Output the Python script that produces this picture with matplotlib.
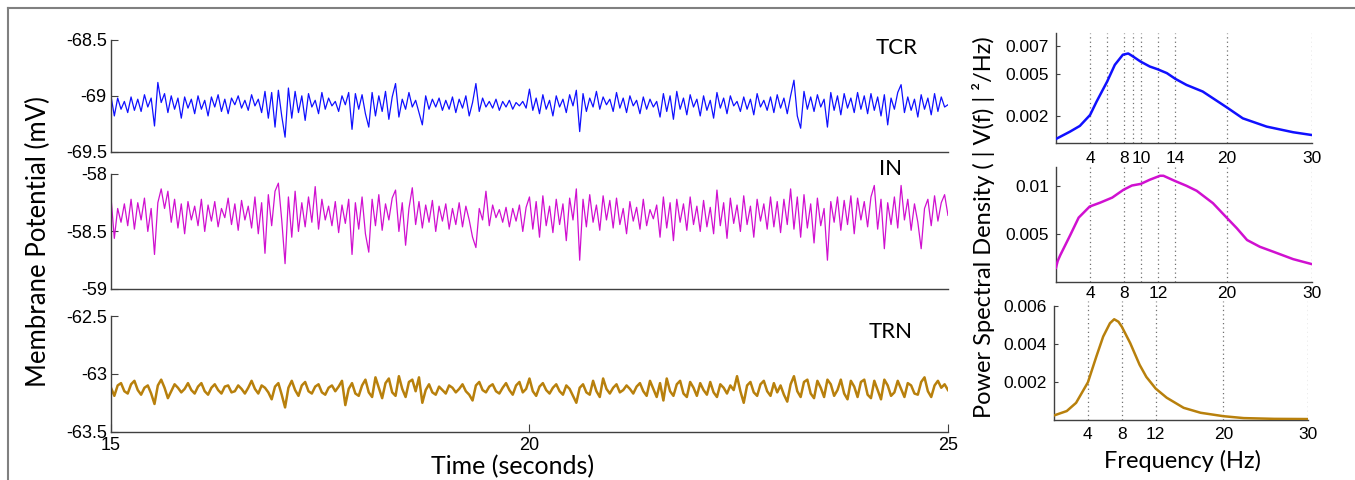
##========================================
# Thalamic model: membrane potential traces and their spectra
##========================================
import numpy as np
import matplotlib
matplotlib.use('Agg')
import matplotlib.pyplot as plt
from matplotlib.lines import Line2D

##====================================================
# Data
##====================================================
# membrane potential (mV), 0.04 s steps from 15 s to 25 s
tcr_mv = [
    -69.00, -69.18, -69.02, -69.12, -69.05, -69.15, -69.01, -69.13, -69.03, -69.14, -68.99, -69.10, -69.02, -69.27, -68.88, -69.06, -68.98, -69.15, -69.00, -69.12, -69.02, -69.20, -69.01, -69.11, -69.03,
    -69.16, -69.00, -69.12, -69.04, -69.18, -69.01, -69.10, -68.99, -69.14, -69.03, -69.16, -69.02, -69.08, -69.00, -69.11, -69.04, -69.13, -68.99, -69.09, -69.03, -69.15, -68.96, -69.20, -68.97, -69.28,
    -68.95, -69.18, -69.37, -68.93, -69.20, -68.96, -69.15, -69.00, -69.22, -68.98, -69.10, -69.04, -69.16, -68.97, -69.12, -69.02, -69.09, -69.05, -69.14, -69.00, -69.08, -68.97, -69.30, -68.98, -69.12,
    -68.99, -69.16, -69.28, -68.97, -69.18, -69.00, -69.14, -68.96, -69.21, -69.01, -68.89, -69.19, -69.03, -69.12, -68.97, -69.10, -69.04, -69.15, -69.26, -69.00, -69.12, -69.03, -69.10, -69.02, -69.13,
    -69.04, -69.12, -69.01, -69.15, -69.03, -69.11, -69.00, -69.18, -69.06, -68.89, -69.14, -69.02, -69.10, -69.05, -69.11, -69.03, -69.13, -69.05, -69.10, -69.04, -69.12, -69.06, -69.09, -69.05, -69.11,
    -68.94, -69.13, -69.02, -69.16, -68.99, -69.12, -69.04, -69.18, -69.00, -69.10, -69.03, -69.15, -68.99, -69.09, -68.95, -69.32, -68.98, -69.14, -69.02, -69.10, -68.96, -69.12, -69.01, -69.08, -69.03,
    -69.14, -68.97, -69.11, -69.02, -69.15, -69.00, -69.09, -69.04, -69.16, -69.01, -69.12, -69.03, -69.10, -69.05, -69.19, -68.98, -69.14, -69.00, -69.21, -68.96, -69.12, -69.02, -69.17, -68.99, -69.10,
    -69.03, -69.18, -69.00, -69.13, -69.04, -69.20, -68.97, -69.11, -69.02, -69.16, -69.00, -69.09, -69.05, -69.14, -69.01, -69.12, -69.03, -69.17, -68.98, -69.10, -69.04, -69.13, -69.01, -69.15, -68.99,
    -69.11, -69.02, -69.16, -69.00, -68.86, -69.18, -69.29, -68.96, -69.12, -69.01, -69.14, -68.99, -69.10, -69.03, -69.28, -68.97, -69.13, -69.00, -69.17, -68.98, -69.11, -69.02, -69.15, -68.97, -69.12,
    -69.00, -69.16, -68.98, -69.13, -69.01, -69.18, -68.99, -69.26, -69.02, -69.12, -68.97, -68.90, -69.15, -69.01, -69.13, -69.03, -69.19, -68.99, -69.12, -69.02, -69.17, -68.98, -69.14, -69.01, -69.10,
    -69.08]

in_mv = [
    -58.20, -58.56, -58.30, -58.42, -58.26, -58.45, -58.22, -58.48, -58.25, -58.40, -58.21, -58.50, -58.30, -58.70, -58.25, -58.13, -58.30, -58.15, -58.42, -58.22, -58.47, -58.26, -58.52, -58.24, -58.40,
    -58.28, -58.45, -58.22, -58.50, -58.27, -58.41, -58.24, -58.46, -58.30, -58.38, -58.21, -58.44, -58.26, -58.49, -58.23, -58.40, -58.28, -58.47, -58.20, -58.52, -58.25, -58.69, -58.18, -58.45, -58.15,
    -58.08, -58.40, -58.78, -58.20, -58.55, -58.15, -58.50, -58.25, -58.46, -58.20, -58.42, -58.11, -58.48, -58.22, -58.40, -58.28, -58.45, -58.24, -58.51, -58.27, -58.43, -58.22, -58.70, -58.25, -58.48,
    -58.20, -58.52, -58.68, -58.22, -58.45, -58.18, -58.49, -58.26, -58.40, -58.21, -58.14, -58.50, -58.25, -58.62, -58.30, -58.12, -58.44, -58.24, -58.47, -58.27, -58.42, -58.23, -58.50, -58.28, -58.41,
    -58.26, -58.48, -58.30, -58.44, -58.25, -58.46, -58.28, -58.40, -58.55, -58.64, -58.30, -58.40, -58.15, -58.45, -58.27, -58.38, -58.31, -58.42, -58.29, -58.46, -58.30, -58.41, -58.27, -58.50, -58.29,
    -58.20, -58.48, -58.24, -58.55, -58.19, -58.45, -58.28, -58.51, -58.22, -58.44, -58.26, -58.58, -58.21, -58.40, -58.13, -58.75, -58.22, -58.46, -58.18, -58.42, -58.27, -58.49, -58.19, -58.40, -58.23,
    -58.47, -58.21, -58.44, -58.30, -58.52, -58.24, -58.41, -58.29, -58.48, -58.22, -58.45, -58.31, -58.39, -58.27, -58.55, -58.20, -58.47, -58.25, -58.58, -58.22, -58.42, -58.26, -58.49, -58.20, -58.44,
    -58.28, -58.50, -58.23, -58.46, -58.29, -58.52, -58.14, -58.45, -58.25, -58.56, -58.21, -58.43, -58.27, -58.50, -58.19, -58.44, -58.28, -58.55, -58.22, -58.41, -58.26, -58.48, -58.20, -58.46, -58.24,
    -58.51, -58.22, -58.44, -58.13, -58.48, -58.20, -58.55, -58.18, -58.47, -58.26, -58.60, -58.21, -58.45, -58.30, -58.75, -58.24, -58.42, -58.20, -58.49, -58.23, -58.44, -58.19, -58.52, -58.21, -58.40,
    -58.24, -58.46, -58.20, -58.10, -58.48, -58.22, -58.65, -58.25, -58.44, -58.20, -58.47, -58.10, -58.40, -58.22, -58.49, -58.26, -58.42, -58.65, -58.30, -58.22, -58.45, -58.19, -58.41, -58.25, -58.18,
    -58.36]

trn_mv = [
    -63.12, -63.19, -63.10, -63.08, -63.15, -63.17, -63.09, -63.06, -63.14, -63.18, -63.12, -63.10, -63.17, -63.26, -63.10, -63.05, -63.12, -63.21, -63.15, -63.09, -63.12, -63.16, -63.13, -63.08, -63.14,
    -63.17, -63.11, -63.08, -63.15, -63.18, -63.12, -63.09, -63.14, -63.17, -63.11, -63.10, -63.16, -63.15, -63.10, -63.13, -63.17, -63.12, -63.06, -63.13, -63.17, -63.10, -63.12, -63.16, -63.22, -63.11,
    -63.08, -63.18, -63.29, -63.12, -63.06, -63.14, -63.19, -63.10, -63.07, -63.15, -63.17, -63.11, -63.09, -63.16, -63.18, -63.12, -63.10, -63.15, -63.11, -63.06, -63.27, -63.13, -63.08, -63.17, -63.19,
    -63.10, -63.05, -63.16, -63.20, -63.03, -63.12, -63.21, -63.08, -63.04, -63.16, -63.19, -63.02, -63.13, -63.20, -63.07, -63.05, -63.15, -63.03, -63.25, -63.14, -63.09, -63.16, -63.18, -63.11, -63.14,
    -63.17, -63.10, -63.12, -63.16, -63.13, -63.09, -63.15, -63.18, -63.23, -63.10, -63.07, -63.14, -63.16, -63.11, -63.09, -63.15, -63.17, -63.12, -63.08, -63.14, -63.18, -63.10, -63.07, -63.16, -63.13,
    -63.04, -63.15, -63.19, -63.11, -63.08, -63.14, -63.17, -63.12, -63.09, -63.15, -63.18, -63.10, -63.13, -63.19, -63.25, -63.12, -63.09, -63.16, -63.18, -63.06, -63.15, -63.20, -63.04, -63.13, -63.17,
    -63.12, -63.09, -63.16, -63.14, -63.10, -63.13, -63.17, -63.11, -63.08, -63.15, -63.19, -63.06, -63.13, -63.20, -63.08, -63.23, -63.04, -63.15, -63.19, -63.09, -63.06, -63.17, -63.20, -63.07, -63.12,
    -63.19, -63.08, -63.14, -63.18, -63.07, -63.16, -63.20, -63.09, -63.12, -63.17, -63.10, -63.14, -63.02, -63.15, -63.25, -63.10, -63.07, -63.16, -63.19, -63.09, -63.06, -63.15, -63.19, -63.08, -63.16,
    -63.10, -63.18, -63.24, -63.09, -63.02, -63.15, -63.20, -63.07, -63.05, -63.17, -63.21, -63.06, -63.12, -63.20, -63.05, -63.09, -63.19, -63.14, -63.05, -63.17, -63.22, -63.06, -63.11, -63.20, -63.07,
    -63.05, -63.18, -63.21, -63.06, -63.14, -63.22, -63.05, -63.10, -63.19, -63.16, -63.06, -63.13, -63.20, -63.08, -63.10, -63.17, -63.18, -63.07, -63.03, -63.15, -63.20, -63.10, -63.06, -63.12, -63.09,
    -63.14]

# power spectral density, (|V(f)|^2/Hz)
tcr_freq = [0, 1.64, 2.8, 4, 4.76, 6, 6.9, 7.84, 8.47, 8.9, 9.9, 11, 11.9, 13, 14,
            15.3, 17.2, 20, 21.9, 24.7, 27.8, 30]
tcr_psd = [0.00036, 0.00088, 0.00129, 0.00207, 0.00302, 0.00445, 0.00564, 0.00636,
           0.00645, 0.00629, 0.00588, 0.00552, 0.00533, 0.00505, 0.00464, 0.00421,
           0.00374, 0.00262, 0.00183, 0.00124, 0.00084, 0.00064]

in_freq = [0, 0.2, 0.5, 1.68, 2.66, 3.95, 5.2, 6.6, 7.9, 8.9, 9.95, 11, 12.2, 12.6,
           13.9, 15.3, 16.5, 18.4, 19.9, 21.2, 22.4, 23.9, 25.5, 27.8, 30]
in_psd = [0.0015, 0.0022, 0.0028, 0.0049, 0.0067, 0.00785, 0.00826, 0.00878, 0.00958,
          0.01003, 0.0102, 0.01063, 0.01104, 0.01104, 0.01052, 0.0100, 0.00948, 0.0082,
          0.0068, 0.0056, 0.00438, 0.00368, 0.00316, 0.0024, 0.00188]

trn_freq = [0, 1.5, 2.6, 4, 5.0, 5.8, 6.6, 7.1, 7.6, 8.0, 9.0, 10.1, 10.9, 12, 13.3,
            15.3, 17.3, 20, 22.4, 26, 30]
trn_psd = [0.00024, 0.00047, 0.0009, 0.00198, 0.00334, 0.00438, 0.00508, 0.00529,
           0.00516, 0.0049, 0.00403, 0.0029, 0.00226, 0.00165, 0.00117, 0.00064,
           0.00038, 0.0002, 0.0001, 0.00006, 0.00005]

names = ['TCR', 'IN', 'TRN']
colors = ['#1010ff', '#d010d0', '#b8800c']

##====================================================
# Figure
##====================================================
label_font = 'Lato'
tick_font = 'Liberation Sans'
plt.rcParams['font.family'] = [tick_font, 'DejaVu Sans']

fig = plt.figure(figsize=(13.55, 4.8), dpi=100)

# gray frame round the panel
fig.add_artist(Line2D([8/1355, 8/1355], [0, 1 - 8/480], color='#808080', lw=1.5))
fig.add_artist(Line2D([8/1355, 1], [1 - 8/480, 1 - 8/480], color='#808080', lw=1.5))

# left column: time traces
left_boxes = [[0.0819, 0.684, 0.6177, 0.2327],
              [0.0819, 0.398, 0.6177, 0.2396],
              [0.0819, 0.1006, 0.6177, 0.2410]]
ylims = [(-69.5, -68.5), (-59, -58), (-63.5, -62.5)]
yticks = [[-69.5, -69, -68.5], [-59, -58.5, -58], [-63.5, -63, -62.5]]
ytick_labels = [['-69.5', '-69', '-68.5'], ['-59', '-58.5', '-58'], ['-63.5', '-63', '-62.5']]
traces = [tcr_mv, in_mv, trn_mv]
widths = [0.9, 0.9, 1.8]
name_pos = [(0.939, 0.928), (0.9315, 1.043), (0.9315, 0.864)]

for k in range(3):
    ax = fig.add_axes(left_boxes[k])
    t = np.linspace(15, 25, len(traces[k]))
    ax.plot(t, traces[k], color=colors[k], lw=widths[k])
    ax.set_xlim(15, 25)
    ax.set_ylim(ylims[k])
    ax.set_yticks(yticks[k])
    ax.set_yticklabels(ytick_labels[k])
    ax.spines['top'].set_visible(False)
    ax.spines['right'].set_visible(False)
    for s in ['left', 'bottom']:
        ax.spines[s].set_color('#404040')
        ax.spines[s].set_linewidth(1.0)
    ax.tick_params(axis='y', direction='in', length=5, labelsize=13, pad=3, color='#404040')
    if k < 2:
        ax.set_xticks([])
    else:
        ax.set_xticks([15, 20, 25])
        ax.tick_params(axis='x', direction='in', length=6, labelsize=13, pad=4, color='#404040')
    ax.text(name_pos[k][0], name_pos[k][1], names[k], transform=ax.transAxes,
            ha='center', va='center', fontsize=16, family=label_font)

fig.text(38/1355, 1 - 242/480, 'Membrane Potential (mV)', rotation=90,
         ha='center', va='center', fontsize=18.5, family=label_font)
fig.text(513/1355, 1 - 467/480, 'Time (seconds)', ha='center', va='center',
         fontsize=18, family=label_font)

# right column: spectra
right_boxes = [[0.7793, 0.702, 0.1889, 0.2290],
               [0.7793, 0.4125, 0.1889, 0.2396],
               [0.7779, 0.125, 0.1875, 0.2480]]
freqs = [tcr_freq, in_freq, trn_freq]
psds = [tcr_psd, in_psd, trn_psd]
psd_ylims = [(0.00007, 0.0079), (0.00003, 0.01195), (0, 0.00625)]
psd_yticks = [[0.002, 0.005, 0.007], [0.005, 0.01], [0.002, 0.004, 0.006]]
psd_ytick_labels = [['0.002', '0.005', '0.007'], ['0.005', '0.01'], ['0.002', '0.004', '0.006']]
grid_lines = [[4, 6, 8, 9, 10, 12, 14, 20, 30],
              [4, 8, 10, 12, 14, 20, 30],
              [4, 8, 12, 20, 30]]
freq_ticks = [[4, 8, 10, 14, 20, 30], [4, 8, 12, 20, 30], [4, 8, 12, 20, 30]]
freq_pads = [6, 3, 5]

for k in range(3):
    ax = fig.add_axes(right_boxes[k])
    for g in grid_lines[k]:
        ax.axvline(g, color='#707070', ls=(0, (1, 2.5)), lw=0.9, zorder=1)
    ax.plot(freqs[k], psds[k], color=colors[k], lw=1.8, zorder=3)
    ax.set_xlim(0, 30)
    ax.set_ylim(psd_ylims[k])
    ax.set_xticks(freq_ticks[k])
    ax.set_yticks(psd_yticks[k])
    ax.set_yticklabels(psd_ytick_labels[k])
    ax.spines['top'].set_visible(False)
    ax.spines['right'].set_visible(False)
    if k == 2:
        ax.spines['left'].set_bounds(0, 0.006)
    for s in ['left', 'bottom']:
        ax.spines[s].set_color('#404040')
        ax.spines[s].set_linewidth(1.0)
    ax.tick_params(axis='x', length=0, labelsize=12.5, pad=freq_pads[k])
    ax.tick_params(axis='y', direction='in', length=3, labelsize=12.5, pad=5, color='#404040')

fig.text(983/1355, 1 - 227/480, 'Power Spectral Density ( | V(f) | ²/Hz)', rotation=90,
         ha='center', va='center', fontsize=17, family=label_font)
fig.text(1183/1355, 1 - 461/480, 'Frequency (Hz)', ha='center', va='center',
         fontsize=17, family=label_font)

plt.savefig('out.png', dpi=100)
